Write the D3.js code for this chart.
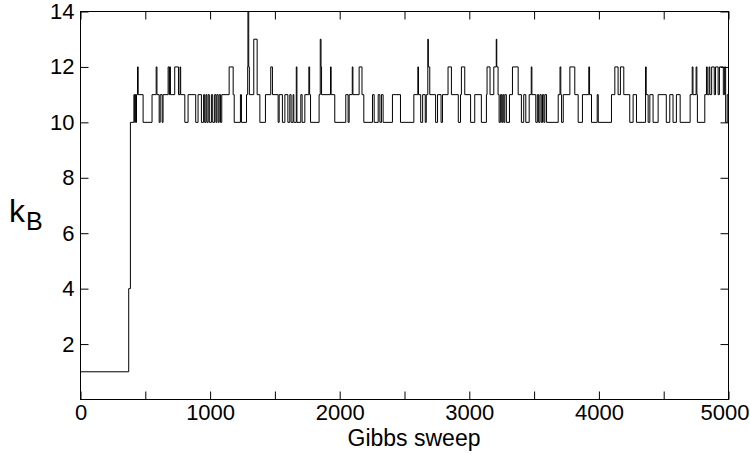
<!DOCTYPE html>
<html>
<head>
<meta charset="utf-8">
<script src="https://cdn.jsdelivr.net/npm/d3@7"></script>
<style>
  html, body { margin: 0; padding: 0; background: #fff; }
  svg { display: block; }
  text { font-family: "Liberation Sans", Arial, Helvetica, sans-serif; fill: #000; }
</style>
</head>
<body>
<svg id="chart" width="750" height="454"></svg>
<script>
// Change points of the Gibbs sampler trace: sweep at which k_B takes a new value
const changeSweep = [
  0, 372, 385, 412, 418, 423, 428, 432, 440, 445, 483, 552, 584, 590, 607, 615, 630, 637, 676, 684,
  688, 694, 727, 756, 768, 773, 805, 830, 889, 907, 933, 950, 958, 968, 975, 985, 994, 1010, 1020, 1035,
  1045, 1052, 1062, 1070, 1080, 1090, 1147, 1178, 1186, 1234, 1242, 1281, 1290, 1292, 1298, 1303, 1337, 1363, 1384, 1427,
  1468, 1481, 1525, 1533, 1558, 1577, 1600, 1615, 1625, 1640, 1646, 1665, 1670, 1700, 1710, 1731, 1762, 1768, 1775, 1841,
  1850, 1856, 1860, 1929, 1934, 1962, 2047, 2065, 2073, 2097, 2102, 2150, 2172, 2186, 2253, 2266, 2297, 2310, 2322, 2335,
  2407, 2469, 2572, 2603, 2608, 2625, 2640, 2660, 2668, 2680, 2684, 2695, 2740, 2755, 2782, 2793, 2836, 2862, 2915, 2932,
  2939, 2965, 3010, 3042, 3093, 3132, 3137, 3160, 3189, 3208, 3212, 3222, 3230, 3240, 3250, 3258, 3266, 3274, 3286, 3310,
  3333, 3377, 3402, 3420, 3436, 3462, 3478, 3483, 3513, 3525, 3535, 3545, 3555, 3565, 3575, 3583, 3596, 3686, 3700, 3706,
  3712, 3725, 3776, 3814, 3840, 3873, 3922, 3928, 3943, 3987, 3995, 4097, 4123, 4148, 4166, 4192, 4238, 4264, 4290, 4360,
  4365, 4380, 4393, 4418, 4457, 4520, 4547, 4572, 4598, 4627, 4704, 4720, 4726, 4750, 4756, 4760, 4817, 4830, 4836, 4850,
  4856, 4870, 4890, 4900, 4920, 4930, 4960, 4970, 4978, 4990
];
const kValue = [
  1, 4, 10, 11, 10, 11, 10, 11, 12, 11, 10, 11, 12, 11, 10, 11, 10, 11, 12, 11,
  12, 11, 12, 11, 12, 11, 10, 11, 10, 11, 10, 11, 10, 11, 10, 11, 10, 11, 10, 11,
  10, 11, 10, 11, 10, 11, 12, 11, 10, 11, 10, 11, 12, 14, 12, 11, 13, 11, 10, 11,
  12, 11, 10, 11, 10, 11, 10, 11, 10, 11, 10, 12, 10, 11, 10, 11, 12, 11, 10, 11,
  13, 12, 11, 12, 11, 10, 11, 10, 11, 12, 11, 12, 11, 10, 11, 10, 11, 10, 11, 10,
  11, 10, 11, 12, 11, 10, 11, 10, 11, 13, 12, 11, 10, 11, 10, 11, 12, 11, 10, 11,
  12, 11, 10, 11, 10, 11, 12, 11, 12, 13, 12, 11, 10, 11, 10, 11, 10, 11, 10, 11,
  12, 11, 10, 11, 10, 11, 12, 11, 10, 11, 10, 11, 10, 11, 10, 11, 10, 11, 12, 11,
  10, 11, 12, 11, 10, 11, 12, 11, 10, 11, 10, 11, 12, 11, 12, 11, 10, 11, 10, 12,
  11, 10, 11, 10, 11, 10, 11, 10, 11, 10, 11, 12, 11, 12, 11, 10, 11, 12, 11, 12,
  11, 12, 11, 12, 11, 12, 11, 12, 10, 11
];
const lastSweep = 5000;
const xTickValues = [0, 1000, 2000, 3000, 4000, 5000];
const xMinorTicks = [500, 1500, 2500, 3500, 4500];
const yTickValues = [2, 4, 6, 8, 10, 12, 14];
const xLabel = "Gibbs sweep";

const svg = d3.select("#chart");
const mLeft = 80.5, mRight = 728.5, mTop = 11.5, mBottom = 399.5;

const x = d3.scaleLinear().domain([0, 5000]).range([mLeft, mRight]);
const y = d3.scaleLinear().domain([0, 14]).range([mBottom, mTop]);

const pts = changeSweep.map((s, i) => [s, kValue[i]]);
pts.push([lastSweep, kValue[kValue.length - 1]]);

svg.append("clipPath").attr("id", "clip")
  .append("rect").attr("x", mLeft).attr("y", mTop - 1).attr("width", mRight - mLeft).attr("height", mBottom - mTop + 1);

svg.append("path")
  .datum(pts)
  .attr("clip-path", "url(#clip)")
  .attr("fill", "none")
  .attr("stroke", "#000")
  .attr("stroke-width", 1)
  .attr("d", d3.line().x(d => x(d[0])).y(d => y(d[1])).curve(d3.curveStepAfter));

// frame
svg.append("rect")
  .attr("x", mLeft).attr("y", mTop).attr("width", mRight - mLeft).attr("height", mBottom - mTop)
  .attr("fill", "none").attr("stroke", "#000").attr("stroke-width", 1);

const tl = 8;
// bottom axis (ticks inward)
const xAxisB = d3.axisBottom(x).tickValues(xTickValues).tickSize(-tl).tickPadding(5).tickFormat(d3.format("d"));
const gxb = svg.append("g").attr("class", "xb").attr("transform", `translate(0,${mBottom})`).call(xAxisB);
const xMinorB = d3.axisBottom(x).tickValues(xMinorTicks).tickSize(-tl).tickFormat("");
svg.append("g").attr("transform", `translate(0,${mBottom})`).call(xMinorB);
// top axis
const xAxisT = d3.axisTop(x).tickValues(xTickValues.concat(xMinorTicks)).tickSize(-tl).tickFormat("");
svg.append("g").attr("transform", `translate(0,${mTop})`).call(xAxisT);
// left axis
const yAxisL = d3.axisLeft(y).tickValues(yTickValues).tickSize(-tl).tickPadding(6).tickFormat(d3.format("d"));
svg.append("g").attr("class", "yl").attr("transform", `translate(${mLeft},0)`).call(yAxisL);
// right axis
const yAxisR = d3.axisRight(y).tickValues(yTickValues).tickSize(-tl).tickFormat("");
svg.append("g").attr("transform", `translate(${mRight},0)`).call(yAxisR);

svg.selectAll(".domain").remove();
svg.selectAll(".tick line").attr("stroke", "#000");
svg.selectAll(".tick text").style("font-size", "22px").style("font-family", "'Liberation Sans', Arial, sans-serif");
// keep the last x label inside the canvas
gxb.selectAll(".tick text").filter(d => d === 5000).attr("dx", -4);

// axis labels
svg.append("text").attr("x", 414).attr("y", 446)
  .attr("text-anchor", "middle").style("font-size", "23px").text(xLabel);

const yl = svg.append("text").attr("x", 9).attr("y", 222).style("font-size", "32px");
yl.append("tspan").text("k");
yl.append("tspan").attr("dx", 1).attr("dy", 8).style("font-size", "25px").text("B");
</script>
</body>
</html>
